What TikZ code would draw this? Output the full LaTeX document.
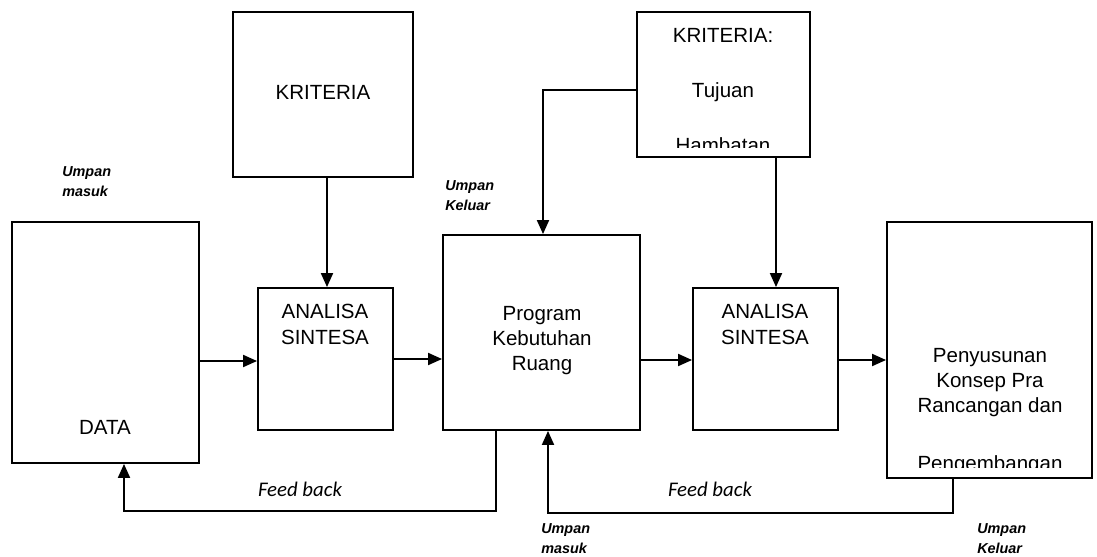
\documentclass[tikz,border=0pt]{standalone}
\usepackage{fontspec}
\setmainfont{Liberation Sans}
\newfontfamily\calib{Carlito}
\usetikzlibrary{arrows.meta,fit}
\tikzset{
  box/.style={draw, line width=1.4pt, inner sep=0pt, fit={#1}},
  txt/.style={anchor=base, inner sep=0pt, font=\fontsize{15.4}{18}\selectfont},
  tag/.style={anchor=base west, inner sep=0pt, font=\fontsize{10.8}{12}\selectfont\bfseries\itshape},
  fb/.style={anchor=base, inner sep=0pt, font=\fontsize{15.6}{18}\selectfont\calib\itshape},
  flow/.style={line width=1.4pt, -{Triangle[length=10.5pt,width=9pt]}}
}
\begin{document}
\begin{tikzpicture}[x=0.75pt,y=-0.75pt]
\useasboundingbox (0,0) rectangle (1097,557);

% boxes
\node[box={(233,12) (413,177)}] (krit1) {};
\node[box={(637,12) (810,157)}] (krit2) {};
\node[box={(12,222) (199,463)}] (data) {};
\node[box={(258,288) (393,430)}] (an1) {};
\node[box={(443,235) (640,430)}] (prog) {};
\node[box={(693,288) (838,430)}] (an2) {};
\node[box={(887,222) (1092,478)}] (pen) {};

% box texts
\node[txt] (tkrit1) at (323,99) {KRITERIA};
\node[txt] (tan1a) at (325,318) {ANALISA};
\node[txt] (tan1b) at (325,344) {SINTESA};
\node[txt] (tprog1) at (542,320) {Program};
\node[txt] (tprog2) at (542,345) {Kebutuhan};
\node[txt] (tprog3) at (542,370) {Ruang};
\node[txt] (tan2a) at (765,318) {ANALISA};
\node[txt] (tan2b) at (765,344) {SINTESA};
\node[txt] (tdata) at (105,434) {DATA};
\node[txt] (tkrit2a) at (723,42) {KRITERIA:};
\node[txt] (tkrit2b) at (723,97) {Tujuan};
\begin{scope}
  \clip (640,100) rectangle (808,147);
  \node[txt] (tkrit2c) at (723,152) {Hambatan};
\end{scope}
\node[txt] (tpen1) at (990,362) {Penyusunan};
\node[txt] (tpen2) at (990,387) {Konsep Pra};
\node[txt] (tpen3) at (990,412) {Rancangan dan};
\begin{scope}
  \clip (890,420) rectangle (1090,467);
  \node[txt] (tpen4) at (990,470) {Pengembangan};
\end{scope}

% main flow
\draw[flow] (data.east |- 0,361) -- (an1.west |- 0,361);
\draw[flow] (an1.east |- 0,359) -- (prog.west |- 0,359);
\draw[flow] (prog.east |- 0,360) -- (an2.west |- 0,360);
\draw[flow] (an2.east |- 0,360) -- (pen.west |- 0,360);

% criteria inputs
\draw[flow] (krit1.south -| 327,0) -- (an1.north -| 327,0);
\draw[flow] (krit2.south -| 776,0) -- (an2.north -| 776,0);
\coordinate (kbend) at (543,90);
\draw[flow] (krit2.west |- kbend) -- (kbend) -- (prog.north -| kbend);

% feedback loops
\coordinate (fb1r) at (496,511);
\coordinate (fb1l) at (124,511);
\draw[flow] (prog.south -| fb1r) -- (fb1r) -- (fb1l) -- (data.south -| fb1l);
\coordinate (fb2r) at (953,513);
\coordinate (fb2l) at (548,513);
\draw[flow] (pen.south -| fb2r) -- (fb2r) -- (fb2l) -- (prog.south -| fb2l);

% labels
\node[fb] (fbt1) at (300,496) {Feed back};
\node[fb] (fbt2) at (710,496) {Feed back};
\node[tag] (um1a) at (62,176) {Umpan};
\node[tag] (um1b) at (62,196) {masuk};
\node[tag] (uk1a) at (445,190) {Umpan};
\node[tag] (uk1b) at (445,210) {Keluar};
\node[tag] (um2a) at (541,533) {Umpan};
\node[tag] (um2b) at (541,553) {masuk};
\node[tag] (uk2a) at (977,533) {Umpan};
\node[tag] (uk2b) at (977,553) {Keluar};
\end{tikzpicture}
\end{document}
